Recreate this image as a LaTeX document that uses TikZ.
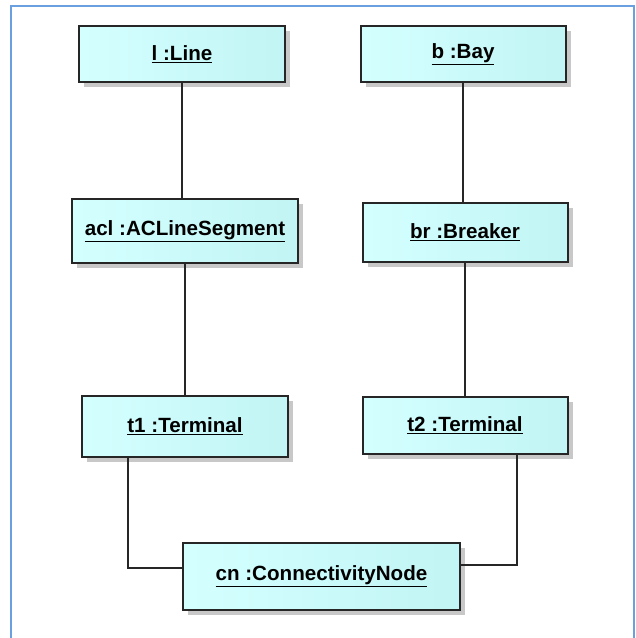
\documentclass[tikz,border=0pt]{standalone}
\usepackage{fontspec}
\setmainfont{Liberation Sans}
\usetikzlibrary{shadows}
\usetikzlibrary{calc}
\definecolor{objleft}{RGB}{212,255,255}
\definecolor{objright}{RGB}{176,234,234}
\definecolor{frameblue}{RGB}{106,160,224}
\definecolor{shadowgray}{RGB}{200,200,200}

\tikzset{
  obj/.style={draw=black!85, line width=2pt, rectangle, left color=objleft, right color=objleft!50!objright,
    shading angle=90, drop shadow={shadow xshift=5pt, shadow yshift=-5pt, fill=shadowgray, opacity=1},
    font=\fontsize{20.6}{24}\selectfont\bfseries},
  link/.style={draw=black!85, line width=2pt}
}

\begin{document}
\begin{tikzpicture}[x=1pt,y=-1pt]
\useasboundingbox (0,0) rectangle (636,638);
\draw[frameblue, line width=2pt] (11,640) -- (11,6) -- (634,6) -- (634,640);
\node[obj, minimum width=206, minimum height=56] (l) at (182,54) {\underline{l :Line}};
\node[obj, minimum width=205, minimum height=56] (b) at (463,54) {\underline{b :Bay}};
\node[obj, minimum width=226, minimum height=64] (acl) at (185,231) {\underline{acl :ACLineSegment}};
\node[obj, minimum width=205, minimum height=59] (br) at (465,232) {\underline{br :Breaker}};
\node[obj, minimum width=206, minimum height=61] (t1) at (185,426.5) {\underline{t1 :Terminal}};
\node[obj, minimum width=205, minimum height=57] (t2) at (465,425.5) {\underline{t2 :Terminal}};
\node[obj, minimum width=277, minimum height=67] (cn) at (321.5,576.5) {\underline{cn :ConnectivityNode}};
\draw[link] (l.south) -- (l.south |- acl.north);
\draw[link] (acl.south) -- (acl.south |- t1.north);
\draw[link] (b.south) -- (b.south |- br.north);
\draw[link] (br.south) -- (br.south |- t2.north);
\draw[link] ([xshift=-57pt]t1.south) |- ([yshift=8.5pt]cn.west);
\draw[link] ([xshift=52pt]t2.south) |- ([yshift=11.5pt]cn.east);
\end{tikzpicture}
\end{document}
